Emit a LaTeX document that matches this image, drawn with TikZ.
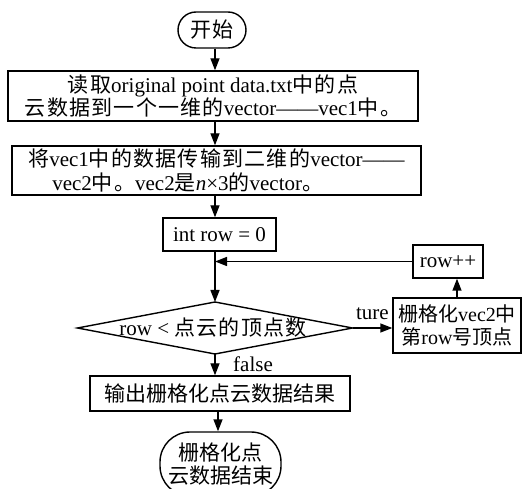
\documentclass[tikz,border=0pt]{standalone}
\usepackage{fontspec}
\setmainfont{Liberation Serif}
\newfontfamily\cjk[LetterSpace=6]{Noto Sans CJK SC}
\newfontfamily\cjktight{Noto Sans CJK SC}
\newcommand\zh[1]{{\cjk #1}}
\newcommand\zt[1]{{\cjktight #1}}
\usetikzlibrary{arrows.meta}
\begin{document}
\begin{tikzpicture}[x=1pt,y=-1pt,
  every node/.style={font=\fontsize{21}{23.5}\selectfont, inner sep=0pt},
  boxnode/.style={draw, line width=1.4pt, align=center},
  termnode/.style={draw, line width=1.4pt, align=center},
  conn/.style={line width=1.4pt, -{Triangle[length=12pt,width=9pt]}},
  plainline/.style={line width=1.4pt}]
\useasboundingbox (0,0) rectangle (528,489);
\clip (0,0) rectangle (528,489);
\coordinate (spine) at (215,0);
\node[termnode, minimum width=68pt, minimum height=36pt, rounded corners=18pt] (start) at (212,30) {\zh{开始}};
\node[boxnode, minimum width=410pt, minimum height=50pt] (b1) at (213,96)
  {\zh{读取}original point data.txt\zh{中的点}\\ \zh{云数据到一个一维的}vector——vec1\zh{中。}};
\node[boxnode, minimum width=409pt, minimum height=49pt, align=left] (b2) at (216.5,170.5)
  {\zh{将}vec1\zh{中的数据传输到二维的}vector——\\ \hspace*{24pt}vec2\zh{中。}vec2\zh{是}\textit{n}×3\zh{的}vector\zh{。}};
\node[boxnode, minimum width=113pt, minimum height=33pt] (b3) at (219.5,234.5) {int row = 0};
\node (d) at (213,328) {row < \zh{点云的顶点数}};
\coordinate (dL) at (77.5,328);
\coordinate (dR) at (352.5,328);
\coordinate (dT) at (215,302);
\coordinate (dB) at (215,354);
\draw[plainline, line join=miter] (dL) -- (dT) -- (dR) -- (dB) -- cycle;
\node[boxnode, minimum width=70pt, minimum height=33pt] (inc) at (448,261.5) {row++};
\node[boxnode, minimum width=128pt, minimum height=55pt, font=\fontsize{20}{23.5}\selectfont] (grid) at (457,325.5)
  {\zt{栅格化}vec2\zt{中}\\ \zt{第}row\zt{号顶点}};
\node[boxnode, minimum width=260pt, minimum height=35pt] (out) at (220,393.5) {\zt{输出栅格化点云数据结果}};
\node[termnode, minimum width=121pt, minimum height=64pt, rounded corners=30pt] (end) at (220.5,464) {\zt{栅格化点}\\ \zt{云数据结束}};
\node[anchor=base east] (lt) at (389,320) {ture};
\node[anchor=base west] (lf) at (233,372) {false};
\coordinate (spineb) at (218,0);
\draw[conn] (start.south -| spine) -- (b1.north -| spine);
\draw[conn] (b1.south -| spine) -- (b2.north -| spine);
\draw[conn] (b2.south -| spine) -- (b3.north -| spine);
\draw[conn] (b3.south -| spine) -- (dT);
\draw[conn] (dB) -- (out.north -| dB);
\draw[conn] (out.south -| spineb) -- (end.north -| spineb);
\draw[conn] (dR) -- (grid.west |- dR);
\draw[conn] (grid.north) -- (grid.north |- inc.south);
\draw[conn] (inc.west) -- (inc.west -| spine);
\end{tikzpicture}
\end{document}
